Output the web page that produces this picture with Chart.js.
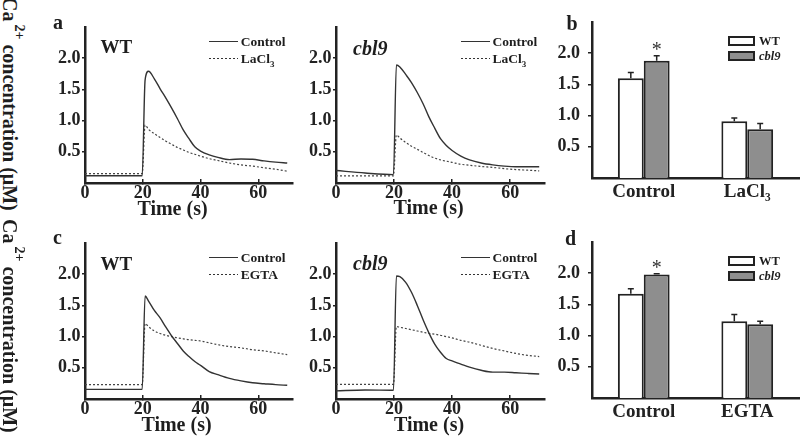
<!DOCTYPE html>
<html>
<head>
<meta charset="utf-8">
<script src="https://cdn.jsdelivr.net/npm/chart.js@4.4.1/dist/chart.umd.min.js"></script>
<style>
  html, body { margin: 0; padding: 0; background: #fff; }
  #fig { position: relative; width: 800px; height: 439px; overflow: hidden;
         font-family: 'Liberation Serif', 'Times New Roman', serif; font-weight: bold; color: #1e1e1e; }
  #fig canvas { position: absolute; }
  .t { position: absolute; white-space: nowrap; line-height: 1; }
  .ytitle { position: absolute; white-space: nowrap; line-height: 1; font-size: 20px;
            transform: rotate(90deg); transform-origin: 0 0; }
  .ytitle .sup { font-size: 14px; position: relative; top: -12px; margin-left: 3px; }
  .solid { position: absolute; width: 29px; height: 0; border-top: 1.4px solid #333; }
  .dots { position: absolute; width: 29px; height: 1px;
          background: repeating-linear-gradient(90deg, #333 0 2px, transparent 2px 4px); }
  .box { position: absolute; width: 27px; height: 10px; box-sizing: border-box; border: 2px solid #222; }
</style>
</head>
<body>
<div id="fig">
  <canvas id="lineA" width="260" height="222" style="left:40px;top:0px"></canvas>
  <canvas id="lineA2" width="261" height="222" style="left:291px;top:0px"></canvas>
  <canvas id="barB" width="260" height="222" style="left:540px;top:0px"></canvas>
  <canvas id="lineC" width="260" height="222" style="left:40px;top:216px"></canvas>
  <canvas id="lineC2" width="261" height="222" style="left:291px;top:216px"></canvas>
  <canvas id="barD" width="260" height="219" style="left:540px;top:220px"></canvas>
</div>
<script>
// --- data ---
const timeS = [0, 10, 19.8, 20.8, 22, 24, 26, 28, 30, 32, 34, 36, 38, 40, 43, 46, 50, 54, 58, 62, 66, 70];
const xTicks = [0, 20, 40, 60];
const yTicks = [0.5, 1.0, 1.5, 2.0];

// a: WT / cbl9, Control vs LaCl3
const aWtControl   = [0.115, 0.115, 0.115, 1.65, 1.79, 1.67, 1.51, 1.36, 1.20, 1.03, 0.85, 0.71, 0.58, 0.51, 0.45, 0.41, 0.375, 0.385, 0.38, 0.355, 0.335, 0.32];
const aWtLaCl3     = [0.15, 0.15, 0.15, 0.93, 0.86, 0.79, 0.73, 0.67, 0.62, 0.57, 0.53, 0.49, 0.46, 0.43, 0.39, 0.36, 0.32, 0.29, 0.27, 0.245, 0.22, 0.19];
const aCbl9Control = [0.20, 0.16, 0.135, 1.89, 1.86, 1.74, 1.61, 1.45, 1.27, 1.06, 0.88, 0.71, 0.60, 0.52, 0.43, 0.37, 0.32, 0.29, 0.27, 0.26, 0.26, 0.26];
const aCbl9LaCl3   = [0.115, 0.115, 0.115, 0.77, 0.72, 0.65, 0.59, 0.54, 0.49, 0.44, 0.40, 0.37, 0.35, 0.33, 0.30, 0.285, 0.265, 0.25, 0.23, 0.215, 0.205, 0.195];

// c: WT / cbl9, Control vs EGTA
const cWtControl   = [0.155, 0.155, 0.155, 1.65, 1.57, 1.42, 1.30, 1.15, 1.01, 0.89, 0.77, 0.68, 0.60, 0.54, 0.44, 0.39, 0.33, 0.29, 0.26, 0.245, 0.23, 0.22];
const cWtEGTA      = [0.23, 0.23, 0.23, 1.21, 1.16, 1.09, 1.05, 1.02, 1.00, 0.98, 0.965, 0.95, 0.94, 0.93, 0.90, 0.87, 0.84, 0.82, 0.79, 0.77, 0.74, 0.71];
const cCbl9Control = [0.13, 0.145, 0.14, 1.97, 1.96, 1.87, 1.71, 1.50, 1.27, 1.06, 0.88, 0.75, 0.65, 0.61, 0.56, 0.51, 0.46, 0.43, 0.43, 0.42, 0.41, 0.40];
const cCbl9EGTA    = [0.235, 0.235, 0.235, 1.16, 1.15, 1.13, 1.11, 1.09, 1.07, 1.05, 1.04, 1.02, 1.00, 0.98, 0.94, 0.91, 0.86, 0.81, 0.77, 0.73, 0.70, 0.68];

// b, d: bar summaries
const genotypes   = ['WT', 'cbl9'];
const bCategories = ['Control', 'LaCl\u2083'];
const bWt         = [1.60, 0.91];
const bWtErr      = [0.09, 0.05];
const bCbl9       = [1.88, 0.78];
const bCbl9Err    = [0.08, 0.095];
const bStars      = ['*', ''];
const dCategories = ['Control', 'EGTA'];
const dWt         = [1.67, 1.23];
const dWtErr      = [0.08, 0.11];
const dCbl9       = [1.98, 1.18];
const dCbl9Err    = [0.01, 0.05];
const dStars      = ['*', ''];

const FONT = "'Liberation Serif', 'Times New Roman', serif";
const INK = '#222';

// --- line panels ---
function lineChart(id, ctrl, treat, treatName) {
  const pts = arr => timeS.map((t, i) => ({ x: t, y: arr[i] }));
  return new Chart(document.getElementById(id), {
    type: 'line',
    data: {
      datasets: [
        { label: 'Control', data: pts(ctrl), borderColor: '#333', borderWidth: 1.4,
          pointRadius: 0, cubicInterpolationMode: 'monotone' },
        { label: treatName, data: pts(treat), borderColor: '#444', borderWidth: 1.2,
          borderDash: [2, 2], pointRadius: 0, cubicInterpolationMode: 'monotone' }
      ]
    },
    options: {
      responsive: false,
      animation: false,
      layout: { padding: { top: 27, right: 7, left: 0, bottom: 0 } },
      plugins: { legend: { display: false }, tooltip: { enabled: false } },
      scales: {
        x: {
          type: 'linear', min: 0, max: 72,
          afterBuildTicks: s => { s.ticks = xTicks.map(v => ({ value: v })); },
          afterFit: s => { s.height = 39; },
          // negative tick length: small marks pointing into the plot
          grid: { drawOnChartArea: false, tickLength: -4, color: INK, lineWidth: 1.5 },
          border: { color: INK, width: 2.5 },
          ticks: { font: { family: FONT, size: 18, weight: 'bold' }, color: INK,
                   padding: 4, maxRotation: 0, autoSkip: false }
        },
        y: {
          min: 0, max: 2.5,
          afterBuildTicks: s => { s.ticks = yTicks.map(v => ({ value: v })); },
          afterFit: s => { s.width = 45; },
          grid: { drawOnChartArea: false, tickLength: 3, color: INK, lineWidth: 1.5 },
          border: { color: INK, width: 2.5 },
          ticks: { font: { family: FONT, size: 18, weight: 'bold' }, color: INK,
                   padding: 1.5, callback: v => v.toFixed(1) }
        }
      }
    }
  });
}

// error bars + significance stars on the bar panels
const errorBars = {
  id: 'errorBars',
  afterDatasetsDraw(chart) {
    const ctx = chart.ctx, y = chart.scales.y;
    chart.data.datasets.forEach((ds, i) => {
      chart.getDatasetMeta(i).data.forEach((bar, j) => {
        const top = y.getPixelForValue(ds.data[j] + ds.err[j]);
        ctx.save();
        ctx.strokeStyle = INK;
        ctx.lineWidth = 1.5;
        ctx.beginPath();
        ctx.moveTo(bar.x, bar.y);
        ctx.lineTo(bar.x, top);
        ctx.moveTo(bar.x - 3, top);
        ctx.lineTo(bar.x + 3, top);
        ctx.stroke();
        if (ds.stars && ds.stars[j]) {
          ctx.fillStyle = '#333';
          ctx.font = '20px ' + FONT;
          ctx.textAlign = 'center';
          ctx.textBaseline = 'alphabetic';
          ctx.fillText(ds.stars[j], bar.x, top + 0.5);
        }
        ctx.restore();
      });
    });
  }
};

function barChart(id, cats, wt, wtErr, cb, cbErr, stars, axisH) {
  return new Chart(document.getElementById(id), {
    type: 'bar',
    data: {
      labels: cats,
      datasets: [
        { label: genotypes[0], data: wt, err: wtErr, backgroundColor: '#fff',
          borderColor: INK, borderWidth: 2, barPercentage: 1, categoryPercentage: 0.5 },
        { label: genotypes[1], data: cb, err: cbErr, stars: stars, backgroundColor: '#8e8e8e',
          borderColor: INK, borderWidth: 2, barPercentage: 1, categoryPercentage: 0.5 }
      ]
    },
    options: {
      responsive: false,
      animation: false,
      layout: { padding: { top: 22, right: 1, left: 0, bottom: 0 } },
      plugins: { legend: { display: false }, tooltip: { enabled: false } },
      scales: {
        x: {
          afterFit: s => { s.height = axisH; },
          grid: { drawOnChartArea: false, drawTicks: false },
          border: { color: INK, width: 2.5 },
          ticks: { font: { family: FONT, size: 19, weight: 'bold' }, color: INK, padding: 3 }
        },
        y: {
          min: 0, max: 2.5,
          afterBuildTicks: s => { s.ticks = yTicks.map(v => ({ value: v })); },
          afterFit: s => { s.width = 52; },
          grid: { drawOnChartArea: false, tickLength: 4, color: INK, lineWidth: 1.5 },
          border: { color: INK, width: 2.5 },
          ticks: { font: { family: FONT, size: 18, weight: 'bold' }, color: INK,
                   padding: 8, callback: v => v.toFixed(1) }
        }
      }
    },
    plugins: [errorBars]
  });
}

lineChart('lineA', aWtControl, aWtLaCl3, 'LaCl3');
lineChart('lineA2', aCbl9Control, aCbl9LaCl3, 'LaCl3');
lineChart('lineC', cWtControl, cWtEGTA, 'EGTA');
lineChart('lineC2', cCbl9Control, cCbl9EGTA, 'EGTA');
barChart('barB', bCategories, bWt, bWtErr, bCbl9, bCbl9Err, bStars, 44);
barChart('barD', dCategories, dWt, dWtErr, dCbl9, dCbl9Err, dStars, 41);

// --- text overlays ---
const fig = document.getElementById('fig');
function put(html, left, top, size, style) {
  const d = document.createElement('div');
  d.className = 't';
  d.innerHTML = html;
  d.style.left = left + 'px';
  d.style.top = top + 'px';
  d.style.fontSize = size + 'px';
  if (style) d.style.cssText += style;
  fig.appendChild(d);
  return d;
}
function mark(cls, left, top) {
  const d = document.createElement('div');
  d.className = cls;
  d.style.left = left + 'px';
  d.style.top = top + 'px';
  fig.appendChild(d);
}

// y titles
[-3, 219].forEach(top => {
  const d = document.createElement('div');
  d.className = 'ytitle';
  d.innerHTML = 'Ca<span class="sup">2+</span> concentration (\u03bcM)';
  d.style.left = '20px';
  d.style.top = top + 'px';
  fig.appendChild(d);
});

// panel letters
put('a', 53, 11.5, 20);
put('b', 566.5, 13.3, 20);
put('c', 53, 226.5, 20);
put('d', 565, 228.3, 20);

// genotype labels in line panels
put('WT', 100.5, 37.4, 19);
put('cbl9', 353, 38.3, 20, 'font-style:italic');
put('WT', 100.5, 253.6, 19);
put('cbl9', 353, 253.3, 20, 'font-style:italic');

// x titles
[[172.5, 197.8], [428.6, 196.5], [176.5, 414.3], [429, 414.3]].forEach(([cx, top]) => {
  put('Time (s)', cx - 60, top, 20, 'width:120px;text-align:center');
});

// line legends
function lineLegend(x, ySolid, yDots, treat) {
  mark('solid', x, ySolid - 0.7);
  mark('dots', x, Math.round(yDots - 0.5));
  put('Control', x + 31.7, ySolid - 6.3, 13.5);
  put(treat, x + 31.7, yDots - 6.3, 13.5);
}
const laLabel = 'LaCl<span style="font-size:9px;position:relative;top:4px">3</span>';
lineLegend(209, 41.7, 58.3, laLabel);
lineLegend(460.7, 41.7, 58.3, laLabel);
lineLegend(209, 257.3, 274, 'EGTA');
lineLegend(460.7, 257.6, 274.5, 'EGTA');

// bar legends
function barLegend(top1, top2) {
  const b1 = document.createElement('div');
  b1.className = 'box'; b1.style.left = '728px'; b1.style.top = top1 + 'px'; b1.style.background = '#fff';
  const b2 = document.createElement('div');
  b2.className = 'box'; b2.style.left = '728px'; b2.style.top = top2 + 'px'; b2.style.background = '#8e8e8e';
  fig.appendChild(b1); fig.appendChild(b2);
  put(genotypes[0], 759, top1 - 0.6, 12.5);
  put(genotypes[1], 759, top2 - 0.6, 12.5, 'font-style:italic');
}
barLegend(36, 51);
barLegend(256, 270.5);
</script>
</body>
</html>
